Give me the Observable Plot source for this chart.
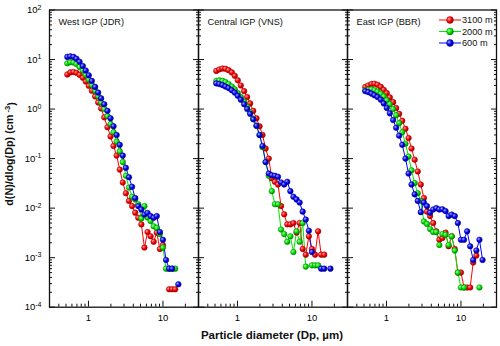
<!DOCTYPE html>
<html><head><meta charset="utf-8">
<script src="https://cdn.jsdelivr.net/npm/d3@7"></script>
<script src="https://cdn.jsdelivr.net/npm/@observablehq/plot@0.6"></script>
<style>
body{margin:0;background:#fff}
#chart svg{font-family:Arial,"Liberation Sans",sans-serif;overflow:visible}
</style>
</head><body><div id="chart"></div>
<script>
const sites = ["West IGP (JDR)", "Central IGP (VNS)", "East IGP (BBR)"];
const altitudes = ["3100 m", "2000 m", "600 m"];
const colors = ["#ff0000", "#00e800", "#0000ff"];
const darkColors = ["#a00000", "#008800", "#00008c"];
const yTickValues = [1e-4, 1e-3, 1e-2, 1e-1, 1, 10, 100];
const xTickValues = [1, 10];
const diameters = [0.52, 0.57, 0.63, 0.69, 0.76, 0.84, 0.92, 1.01, 1.11, 1.23, 1.35, 1.48, 1.63, 1.80, 1.98, 2.17, 2.39, 2.63, 2.89, 3.18, 3.50, 3.85, 4.24, 4.66, 5.13, 5.64, 6.21, 6.83, 7.51, 8.26, 9.09, 10.0, 11.0, 12.1, 13.3, 14.6, 16.1, 17.7, 19.5];

const westRed = [5.0, 5.5, 5.6, 5.4, 4.9, 4.3, 3.6, 2.95, 2.35, 1.8, 1.36, 1.03, 0.68, 0.43, 0.28, 0.18, 0.115, 0.06, 0.033, 0.02, 0.014, 0.011, 0.0081, 0.0064, 0.0047, 0.0016, 0.0033, 0.0027, 0.0021, 0.0032, 0.0015, 0.0018, null, 0.00023, 0.00023, 0.00023, null, null, null];
const westGreen = [8.4, 8.8, 8.7, 8.1, 7.1, 6.0, 4.9, 3.9, 3.05, 2.35, 1.8, 1.35, 1.0, 0.72, 0.5, 0.34, 0.22, 0.14, 0.085, 0.045, 0.026, 0.017, 0.015, 0.012, 0.0062, 0.011, 0.0065, 0.0055, 0.0043, 0.004, 0.003, 0.0016, 0.0006, 0.0006, 0.0006, 0.0006, null, null, null];
const westBlue = [11.3, 11.6, 11.3, 10.4, 9.0, 7.4, 6.0, 4.8, 3.7, 2.8, 2.15, 1.65, 1.25, 0.92, 0.65, 0.45, 0.3, 0.19, 0.115, 0.065, 0.042, 0.027, 0.016, 0.011, 0.0094, 0.0074, 0.008, 0.0069, 0.0064, 0.0069, 0.0033, 0.0023, 0.0009, 0.0006, 0.0006, null, 0.00029, null, null];

const centralRed = [5.9, 6.3, 6.6, 6.5, 6.1, 5.5, 4.7, 3.8, 3.0, 2.3, 1.75, 1.3, 0.92, 0.65, 0.45, 0.3, 0.16, 0.1, 0.04, 0.034, 0.03, 0.011, 0.0075, 0.0047, 0.0047, 0.005, 0.0032, 0.005, 0.0015, 0.00115, 0.0027, 0.0015, 0.00115, 0.0034, 0.00115, 0.00115, null, null, null];
const centralGreen = [3.7, 3.8, 3.7, 3.5, 3.2, 2.85, 2.5, 2.1, 1.75, 1.42, 1.12, 0.86, 0.64, 0.46, 0.3, 0.17, 0.085, 0.045, 0.022, 0.012, 0.012, 0.0037, 0.003, 0.0021, 0.0027, 0.0013, 0.0034, 0.0021, 0.005, 0.00066, null, 0.0007, 0.0007, 0.0007, null, null, null, null, null];
const centralBlue = [3.3, 3.2, 3.05, 2.85, 2.65, 2.4, 2.15, 1.85, 1.55, 1.25, 1.0, 0.8, 0.62, 0.46, 0.3, 0.18, 0.085, 0.05, 0.046, 0.045, 0.043, 0.033, 0.03, 0.034, 0.022, 0.017, 0.015, 0.013, 0.0085, 0.0059, 0.0035, 0.0013, null, null, 0.0006, 0.0006, null, 0.0006, null];

const eastRed = [2.8, 3.0, 3.2, 3.25, 3.1, 2.8, 2.45, 2.1, 1.72, 1.38, 1.05, 0.8, 0.58, 0.4, 0.26, 0.16, 0.095, 0.055, 0.03, 0.016, 0.0085, 0.0069, 0.005, 0.0034, 0.0023, 0.0025, 0.0032, 0.0017, 0.0027, 0.0015, 0.0005, 0.0005, 0.00025, 0.00025, 0.00025, 0.0008, 0.0011, null, null];
const eastGreen = [2.4, 2.45, 2.5, 2.4, 2.25, 2.05, 1.8, 1.5, 1.25, 1.0, 0.75, 0.52, 0.34, 0.2, 0.11, 0.058, 0.032, 0.02, 0.014, 0.0054, 0.0048, 0.0038, 0.0033, 0.0033, 0.0018, 0.003, 0.0029, 0.0018, 0.0027, 0.0014, 0.0005, 0.00025, 0.00025, null, null, null, null, 0.00025, null];
const eastBlue = [2.3, 2.2, 2.05, 1.9, 1.75, 1.55, 1.3, 1.05, 0.82, 0.6, 0.42, 0.29, 0.19, 0.1, 0.05, 0.03, 0.019, 0.014, 0.0083, 0.013, 0.011, 0.0081, 0.0094, 0.01, 0.0094, 0.0095, 0.0087, 0.0069, 0.0074, 0.0069, 0.005, 0.0023, 0.0023, 0.0034, 0.0017, 0.0009, 0.0014, 0.0023, 0.0009];

const seriesBySite = [
  [westRed, westGreen, westBlue],
  [centralRed, centralGreen, centralBlue],
  [eastRed, eastGreen, eastBlue]
];

const rows = [];
sites.forEach((site, si) => {
  altitudes.forEach((alt, ai) => {
    seriesBySite[si][ai].forEach((v, i) => {
      rows.push({site, alt, ai, d: diameters[i], v});
    });
  });
});

// minor tick positions (2..9 x decade)
const yMinor = [];
for (let e = -4; e < 2; e++) for (let m = 2; m <= 9; m++) yMinor.push(m * Math.pow(10, e));
const xMinor = [];
for (let e = -1; e < 2; e++) for (let m = 2; m <= 9; m++) { const t = m * Math.pow(10, e); if (t >= 0.3 && t <= 30) xMinor.push(t); }

const seriesMarks = [];
altitudes.forEach((alt, ai) => {
  const sub = rows.filter(r => r.ai === ai);
  seriesMarks.push(Plot.line(sub, {x: "d", y: "v", fx: "site", stroke: colors[ai], strokeWidth: 1}));
});
altitudes.forEach((alt, ai) => {
  const sub = rows.filter(r => r.ai === ai && r.v != null);
  seriesMarks.push(Plot.dot(sub, {x: "d", y: "v", fx: "site", r: 2.8, fill: `url(#grad${ai})`, stroke: darkColors[ai], strokeWidth: 0.5}));
});

const chart = Plot.plot({
  width: 500,
  height: 346,
  marginLeft: 48.5,
  marginRight: 4.3,
  marginTop: 9.5,
  marginBottom: 39.3,
  style: {fontFamily: 'Arial, "Liberation Sans", sans-serif', background: "#fff"},
  fx: {domain: sites, padding: 0, axis: null, label: null},
  x: {type: "log", domain: [0.3, 30], label: null},
  y: {type: "log", domain: [1e-4, 1e2], label: null},
  marks: [
    ...seriesMarks,
    Plot.frame({stroke: "#111", strokeWidth: 1.3}),
    // y ticks, inward on both sides of every panel
    Plot.axisY({anchor: "left", ticks: yTickValues, tickSize: -6, fill: "none", facetAnchor: null, stroke: "#111"}),
    Plot.axisY({anchor: "left", ticks: yMinor, tickSize: -3, fill: "none", facetAnchor: null, stroke: "#111"}),
    Plot.axisY({anchor: "right", ticks: yTickValues, tickSize: -6, fill: "none", facetAnchor: null, stroke: "#111"}),
    Plot.axisY({anchor: "right", ticks: yMinor, tickSize: -3, fill: "none", facetAnchor: null, stroke: "#111"}),
    Plot.axisY({anchor: "left", ticks: yTickValues, tickSize: 0, tickPadding: 8, fontSize: 9.5, label: null,
      tickFormat: d => "10^" + Math.round(Math.log10(d))}),
    // x ticks
    Plot.axisX({anchor: "bottom", ticks: xTickValues, tickSize: -6, fill: "none", facetAnchor: null, stroke: "#111"}),
    Plot.axisX({anchor: "bottom", ticks: xMinor, tickSize: -3, fill: "none", facetAnchor: null, stroke: "#111"}),
    Plot.axisX({anchor: "bottom", ticks: xTickValues, tickSize: 0, tickPadding: 7, fontSize: 9.5, label: null, facetAnchor: null,
      tickFormat: d => String(d)}),
    // panel titles
    Plot.text(sites, {fx: d => d, text: d => d, frameAnchor: "top-left", dx: 9, dy: 12, fontSize: 9.2, textAnchor: "start", lineAnchor: "middle", fill: "#111"})
  ]
});

document.getElementById("chart").appendChild(chart);

const svg = d3.select(chart.tagName.toLowerCase() === "svg" ? chart : chart.querySelector("svg"));

// gradient defs for sphere-like markers
const defs = svg.insert("defs", ":first-child");
colors.forEach((c, i) => {
  const g = defs.append("radialGradient").attr("id", `grad${i}`).attr("cx", "35%").attr("cy", "35%").attr("r", "65%");
  g.append("stop").attr("offset", "0%").attr("stop-color", d3.interpolateRgb(c, "#fff")(0.65));
  g.append("stop").attr("offset", "55%").attr("stop-color", c);
  g.append("stop").attr("offset", "100%").attr("stop-color", darkColors[i]);
});

// superscript tick labels
svg.selectAll('g[aria-label="y-axis tick label"] text').each(function() {
  const t = d3.select(this);
  const s = t.text();
  const m = s.match(/^10\^(-?\d+)$/);
  if (!m) return;
  t.text(null);
  t.append("tspan").text("10");
  t.append("tspan").attr("dy", "-0.5em").attr("font-size", "7px").text(m[1]);
});

// axis titles
const yt = svg.append("text")
  .attr("transform", "translate(13,154) rotate(-90)")
  .attr("text-anchor", "middle")
  .attr("font-weight", "bold").attr("font-size", "10.8px").attr("fill", "#111");
yt.append("tspan").text("d(N)/dlog(Dp) (cm");
yt.append("tspan").attr("dy", "-0.45em").attr("font-size", "7.5px").text(" -3");
yt.append("tspan").attr("dy", "0.45em").text(")");

svg.append("text")
  .attr("x", 272).attr("y", 339)
  .attr("text-anchor", "middle")
  .attr("font-weight", "bold").attr("font-size", "11.5px").attr("fill", "#111")
  .text("Particle diameter (Dp, µm)");

// legend
const lg = svg.append("g").attr("aria-label", "legend");
altitudes.forEach((alt, i) => {
  const y = 20 + i * 11.5;
  lg.append("line").attr("x1", 439).attr("x2", 461).attr("y1", y).attr("y2", y).attr("stroke", colors[i]).attr("stroke-width", 1);
  lg.append("circle").attr("cx", 450).attr("cy", y).attr("r", 3.4).attr("fill", `url(#grad${i})`).attr("stroke", darkColors[i]).attr("stroke-width", 0.5);
  lg.append("text").attr("x", 462).attr("y", y).attr("dy", "0.35em").attr("text-anchor", "start").attr("font-size", "9.2px").attr("fill", "#111").text(alt);
});
</script>
</body></html>
